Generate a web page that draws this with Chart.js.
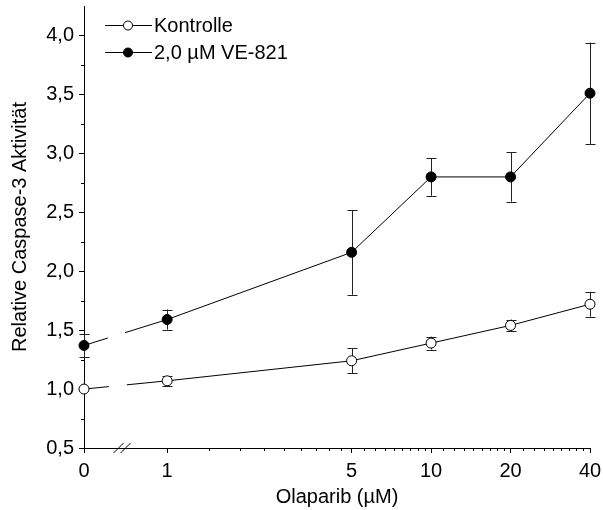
<!DOCTYPE html>
<html>
<head>
<meta charset="utf-8">
<script src="https://cdn.jsdelivr.net/npm/chart.js@4.4.1/dist/chart.umd.min.js"></script>
<style>
  html, body { margin: 0; padding: 0; background: #fff; }
  canvas { display: block; }
</style>
</head>
<body>
<canvas id="myChart" width="603" height="510"></canvas>
<script>
// Olaparib concentrations (µM)
const conc = [0, 1, 5, 10, 20, 40];
// Kontrolle: mean + error
const ctrlMean = [1.00, 1.07, 1.24, 1.39, 1.54, 1.72];
const ctrlErr  = [0.00, 0.04, 0.105, 0.055, 0.05, 0.105];
// 2,0 µM VE-821: mean + error
const veMean = [1.37, 1.59, 2.16, 2.80, 2.80, 3.51];
const veErr  = [0.10, 0.085, 0.36, 0.16, 0.21, 0.43];

const xTickVals = [0, 1, 5, 10, 20, 40];
const yTicks = [0.5, 1.0, 1.5, 2.0, 2.5, 3.0, 3.5, 4.0];
const seriesLabels = ['Kontrolle', '2,0 µM VE-821'];

const FONT = "'Liberation Sans', Arial, Helvetica, sans-serif";
const FS = 20;
Chart.defaults.font.family = FONT;
Chart.defaults.color = '#000';

// broken axis: 0 sits left of the break, 1..40 on a log scale
const ZERO_POS = -0.315;
function pos(v) { return v === 0 ? ZERO_POS : Math.log10(v); }

function pts(means) {
    return conc.map((c, i) => ({ x: pos(c), y: means[i] }));
}

const errs = [ctrlErr, veErr];
const means = [ctrlMean, veMean];

// error bars go under the markers
const errorBars = {
    id: 'errorBars',
    beforeDatasetsDraw(chart) {
        const c = chart.ctx, ys = chart.scales.y;
        c.save();
        c.strokeStyle = '#222';
        c.lineWidth = 1;
        chart.data.datasets.forEach((ds, d) => {
            const meta = chart.getDatasetMeta(d);
            meta.data.forEach((p, i) => {
                const e = errs[d][i];
                if (!e) return;
                const x = Math.round(p.x) + 0.5;
                const y1 = ys.getPixelForValue(means[d][i] + e);
                const y2 = ys.getPixelForValue(means[d][i] - e);
                c.beginPath();
                c.moveTo(x, y1); c.lineTo(x, y2);
                c.moveTo(x - 5, Math.round(y1) + 0.5); c.lineTo(x + 5, Math.round(y1) + 0.5);
                c.moveTo(x - 5, Math.round(y2) + 0.5); c.lineTo(x + 5, Math.round(y2) + 0.5);
                c.stroke();
            });
        });
        c.restore();
    }
};

// minor ticks, axis break marks and the line+marker legend
const extras = {
    id: 'extras',
    afterDraw(chart) {
        const c = chart.ctx, xs = chart.scales.x, ys = chart.scales.y;
        const area = chart.chartArea;
        c.save();
        c.strokeStyle = '#000';
        c.lineWidth = 1;
        c.beginPath();
        // x minor ticks: 8 between each pair of labelled values (from 1 on)
        for (let k = 1; k < xTickVals.length - 1; k++) {
            const a = xTickVals[k], b = xTickVals[k + 1];
            for (let m = 1; m <= 8; m++) {
                const v = a + (b - a) * m / 9;
                const px = Math.round(xs.getPixelForValue(pos(v))) + 0.5;
                c.moveTo(px, area.bottom); c.lineTo(px, area.bottom + 3);
            }
        }
        // y minor ticks
        for (let k = 0; k < yTicks.length - 1; k++) {
            const v = (yTicks[k] + yTicks[k + 1]) / 2;
            const py = Math.round(ys.getPixelForValue(v)) + 0.5;
            c.moveTo(area.left, py); c.lineTo(area.left - 3, py);
        }
        c.stroke();

        // axis break "//"
        const bx = (xs.getPixelForValue(pos(0)) + xs.getPixelForValue(pos(1))) / 2 - 3;
        const by = area.bottom;
        c.beginPath();
        c.moveTo(bx - 9, by + 5); c.lineTo(bx + 1, by - 5);
        c.moveTo(bx - 2, by + 5); c.lineTo(bx + 8, by - 5);
        c.stroke();

        // legend
        c.font = FS + 'px ' + FONT;
        c.textBaseline = 'middle';
        c.textAlign = 'left';
        chart.data.datasets.forEach((ds, d) => {
            const ly = 25 + d * 27;
            c.beginPath();
            c.moveTo(105, ly + 0.5); c.lineTo(152, ly + 0.5);
            c.stroke();
            c.beginPath();
            c.arc(128, ly + 0.5, 4.5, 0, Math.PI * 2);
            c.fillStyle = ds.pointBackgroundColor;
            c.fill();
            c.stroke();
            c.fillStyle = '#000';
            c.fillText(ds.label, 154, ly + 1);
        });
        c.restore();
    }
};

function makeSet(label, data, fill) {
    return {
        label: label,
        data: data,
        borderColor: '#000',
        borderWidth: 1,
        pointRadius: 5,
        pointBorderWidth: 1,
        pointBorderColor: '#000',
        pointBackgroundColor: fill,
        clip: false,
        segment: {
            // gap across the axis break
            borderDash: ctx => ctx.p0DataIndex === 0 ? [25, 18, 1000] : undefined
        }
    };
}

// keep the plot box fixed: no extra room for half-labels at the ends
function noEdgePad(s) {
    s.paddingTop = 0; s.paddingBottom = 0;
    s.paddingLeft = 0; s.paddingRight = 0;
}

const chart = new Chart(document.getElementById('myChart').getContext('2d'), {
    type: 'line',
    data: {
        datasets: [
            makeSet(seriesLabels[0], pts(ctrlMean), '#fff'),
            makeSet(seriesLabels[1], pts(veMean), '#000')
        ]
    },
    options: {
        responsive: false,
        animation: false,
        layout: { padding: { top: 5, right: 13, left: 0, bottom: 0 } },
        plugins: { legend: { display: false }, tooltip: { enabled: false } },
        scales: {
            x: {
                type: 'linear',
                min: pos(0),
                max: pos(40),
                afterBuildTicks: s => { s.ticks = xTickVals.map(v => ({ value: pos(v) })); },
                afterFit: s => { s.height = 62; noEdgePad(s); },
                grid: { drawOnChartArea: false, tickLength: 5, color: '#000' },
                border: { color: '#000', width: 1 },
                ticks: {
                    autoSkip: false, maxRotation: 0, padding: 6,
                    font: { size: FS }, color: '#000',
                    callback: (v, i) => String(xTickVals[i])
                },
                title: {
                    display: true, text: 'Olaparib (µM)',
                    font: { size: FS }, color: '#000',
                    padding: { top: 0, bottom: 1 }
                }
            },
            y: {
                min: 0.5,
                max: 4.25,
                afterBuildTicks: s => { s.ticks = yTicks.map(v => ({ value: v })); },
                afterFit: s => { s.width = 84; noEdgePad(s); },
                grid: { drawOnChartArea: false, tickLength: 5, color: '#000' },
                border: { color: '#000', width: 1 },
                ticks: {
                    padding: 5,
                    font: { size: FS }, color: '#000',
                    callback: v => v.toFixed(1).replace('.', ',')
                },
                title: {
                    display: true, text: 'Relative Caspase-3 Aktivität',
                    font: { size: FS }, color: '#000',
                    padding: { top: 8, bottom: 0 }
                }
            }
        }
    },
    plugins: [errorBars, extras]
});
</script>
</body>
</html>
